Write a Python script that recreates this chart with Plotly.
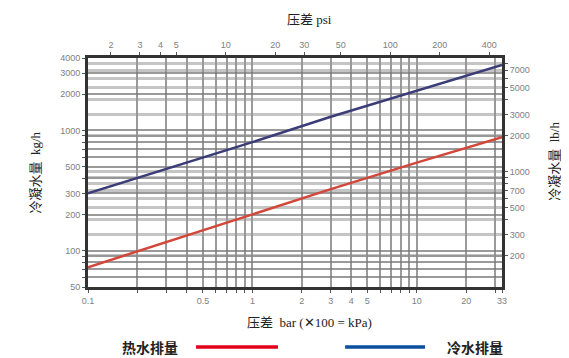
import numpy as np
import plotly.graph_objects as go

# ---- data ----
pressure_bar = [0.1, 0.3, 1, 3, 10, 33]
cold_kgh = [300, 480, 800, 1300, 2150, 3500]   # 冷水排量
hot_kgh = [73, 118, 200, 325, 540, 880]        # 热水排量

bar_labels = [0.1, 0.5, 1, 2, 3, 4, 5, 10, 20, 33]
psi_labels = [2, 3, 4, 5, 10, 20, 30, 50, 100, 200, 400]
kgh_labels = [50, 100, 200, 300, 500, 1000, 2000, 3000, 4000]
lbh_labels = [110, 200, 300, 500, 700, 1000, 2000, 3000, 5000, 7000]

BAR_TO_PSI = 14.5038
KG_TO_LB = 2.20462

def fmt(v):
    return ("%g" % v)

# full decade grids
bar_grid = sorted(set([round(m * 10.0 ** e, 6) for e in (-1, 0, 1) for m in range(1, 10) if 0.1 <= m * 10.0 ** e <= 33] + [33]))
kg_grid = sorted(set([m * 10 ** e for e in (1, 2, 3) for m in range(1, 10) if 50 <= m * 10 ** e <= 4000]))
lb_grid = sorted(set([m * 10 ** e for e in (2, 3) for m in range(1, 10) if 110 <= m * 10 ** e <= 8818] + [110]))

fig = go.Figure()
fig.add_trace(go.Scatter(x=pressure_bar, y=cold_kgh, mode="lines",
                         line=dict(color="#3b3d78", width=2.5), showlegend=False))
fig.add_trace(go.Scatter(x=pressure_bar, y=hot_kgh, mode="lines",
                         line=dict(color="#d2473a", width=2.5), showlegend=False))
# invisible trace to activate secondary axes
fig.add_trace(go.Scatter(x=[1.45, 478], y=[110, 8818], xaxis="x2", yaxis="y2",
                         mode="markers", marker=dict(opacity=0), showlegend=False, hoverinfo="skip"))

tickfont = dict(family="Liberation Sans Narrow, Liberation Sans, Arial", size=9, color="#808080")
gridc = "rgba(120,120,120,0.75)"

# page body has an 8px default margin, so the figure is shrunk by 8px
fig.update_layout(
    width=561, height=350,
    margin=dict(l=80, r=67, t=50, b=71, autoexpand=False),
    paper_bgcolor="white", plot_bgcolor="white",
    xaxis=dict(type="log", range=[np.log10(0.1), np.log10(33)], automargin=False,
               tickvals=bar_grid,
               ticktext=[fmt(v) if any(abs(v - b) < 1e-9 for b in bar_labels) else "" for v in bar_grid],
               tickfont=tickfont, ticks="outside", ticklen=3, tickcolor="#555",
               showgrid=True, gridcolor=gridc, gridwidth=1.6,
               showline=True, linecolor="#333", linewidth=3, mirror=False, zeroline=False),
    xaxis2=dict(type="log", overlaying="x", side="top", automargin=False,
                range=[np.log10(0.1 * BAR_TO_PSI), np.log10(33 * BAR_TO_PSI)],
                tickvals=psi_labels, ticktext=[fmt(v) for v in psi_labels],
                tickfont=tickfont, ticks="outside", ticklen=3, tickcolor="#555",
                showgrid=False, showline=True, linecolor="#333", linewidth=3, zeroline=False),
    yaxis=dict(type="log", range=[np.log10(50), np.log10(4000)], automargin=False,
               tickvals=kg_grid,
               ticktext=[fmt(v) if v in kgh_labels else "" for v in kg_grid],
               tickfont=tickfont, ticks="outside", ticklen=3, tickcolor="#555",
               showgrid=True, gridcolor=gridc, gridwidth=1.6,
               showline=True, linecolor="#333", linewidth=3, zeroline=False),
    yaxis2=dict(type="log", overlaying="y", side="right", automargin=False,
                range=[np.log10(50 * KG_TO_LB), np.log10(4000 * KG_TO_LB)],
                tickvals=lb_grid,
                ticktext=[fmt(v) if v in lbh_labels else "" for v in lb_grid],
                tickfont=tickfont, ticks="outside", ticklen=3, tickcolor="#555",
                showgrid=True, gridcolor="rgba(150,150,150,0.55)", gridwidth=2.5,
                showline=True, linecolor="#333", linewidth=3, zeroline=False),
)

cjk = "Liberation Serif, Noto Sans CJK SC"
ann = [
    dict(text="压差 psi", x=0.536, y=1.17, font=dict(size=13, color="#222", family=cjk)),
    dict(text="压差  bar (✕100 = kPa)", x=0.536, y=-0.155, font=dict(size=13, color="#222", family=cjk)),
    dict(text="冷凝水量  kg/h", x=-0.128, y=0.5, textangle=-90, font=dict(size=13, color="#222", family=cjk)),
    dict(text="冷凝水量  lb/h", x=1.125, y=0.55, textangle=-90, font=dict(size=13, color="#222", family=cjk)),
    dict(text="<b>热水排量</b>", x=0.15, y=-0.262, font=dict(size=14, color="#222", family="Noto Sans CJK SC")),
    dict(text="<b>冷水排量</b>", x=0.935, y=-0.262, font=dict(size=14, color="#222", family="Noto Sans CJK SC")),
]
for a in ann:
    fig.add_annotation(xref="paper", yref="paper", showarrow=False, xanchor="center", yanchor="middle", **a)

fig.add_shape(type="line", xref="paper", yref="paper", x0=0.261, x1=0.459, y0=-0.262, y1=-0.262,
              line=dict(color="#e2001a", width=3.5))
fig.add_shape(type="line", xref="paper", yref="paper", x0=0.621, x1=0.814, y0=-0.262, y1=-0.262,
              line=dict(color="#0b4f9e", width=3.5))

fig.write_html("out.html")
